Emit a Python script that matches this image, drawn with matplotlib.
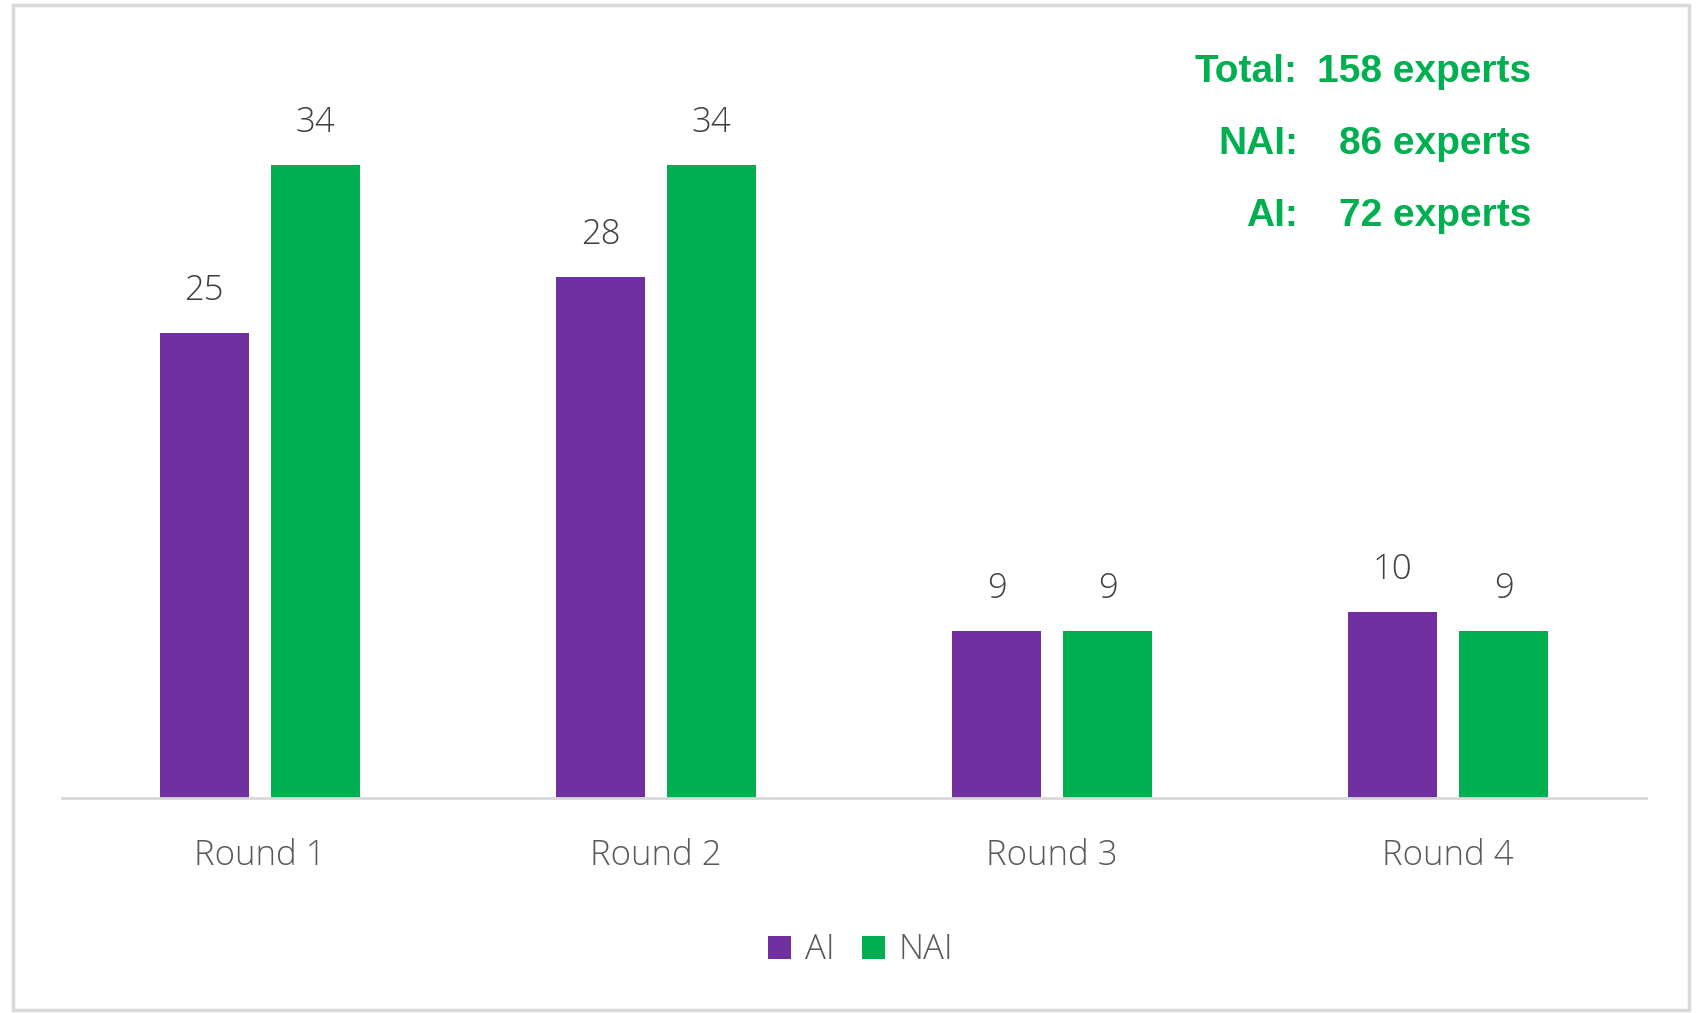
import matplotlib
matplotlib.use("Agg")
import matplotlib.pyplot as plt
from matplotlib.patches import Rectangle
import numpy as np

categories = ["Round 1", "Round 2", "Round 3", "Round 4"]
ai_values = [25, 28, 9, 10]
nai_values = [34, 34, 9, 9]
series_names = ["AI", "NAI"]
summary_labels = ["Total:", "NAI:", "AI:"]
summary_values = ["158 experts", "86 experts", "72 experts"]

PURPLE = "#7030A0"
GREEN = "#00B050"
GRAY_TXT = "#595959"
LABEL_TXT = "#404040"
LINE = "#D9D9D9"

plt.rcParams['font.family'] = ['Open Sans', 'DejaVu Sans']

fig = plt.figure(figsize=(16.98, 10.13), dpi=100)
ax = fig.add_axes([0.0363, 0.212, 0.9333, 0.735])

x = np.arange(len(categories))
w = 0.225
off = 0.14
b1 = ax.bar(x - off, ai_values, w, color=PURPLE, label=series_names[0])
b2 = ax.bar(x + off, nai_values, w, color=GREEN, label=series_names[1])

for bars, vals in ((b1, ai_values), (b2, nai_values)):
    for r, v in zip(bars, vals):
        ax.annotate(str(v), (r.get_x() + r.get_width() / 2, v),
                    xytext=(0, 25), textcoords="offset pixels",
                    ha="center", va="bottom", fontsize=25, color=LABEL_TXT,
                    fontweight="light")

ax.set_xlim(-0.5, 3.5)
ax.set_ylim(0, 40)
ax.set_xticks(x)
ax.set_xticklabels(categories, fontsize=25, color=GRAY_TXT, fontweight="light")
ax.tick_params(axis="x", length=0, pad=29)
ax.set_yticks([])
for s in ("left", "right", "top"):
    ax.spines[s].set_visible(False)
ax.spines["bottom"].set_color(LINE)
ax.spines["bottom"].set_linewidth(2)

leg = fig.legend(handles=[b1, b2], labels=series_names, loc="center",
                 bbox_to_anchor=(0.507, 0.062), ncol=2, frameon=False,
                 prop={"size": 25, "weight": "light"},
                 handlelength=0.65, handleheight=0.65,
                 handletextpad=0.4, columnspacing=0.8)
for t in leg.get_texts():
    t.set_color(GRAY_TXT)

ys = [1 - 72 / 1013, 1 - 144 / 1013, 1 - 216 / 1013]
for lab, val, y in zip(summary_labels, summary_values, ys):
    fig.text(1298 / 1698, y, lab, ha="right", va="center", fontsize=28,
             fontweight="bold", color=GREEN, family="Liberation Sans")
    fig.text(1531 / 1698, y, val, ha="right", va="center", fontsize=28,
             fontweight="bold", color=GREEN, family="Liberation Sans")

fig.patches.append(Rectangle((0.0077, 0.003), 0.987, 0.9917, transform=fig.transFigure,
                             fill=False, edgecolor=LINE, linewidth=2.5))

fig.savefig("out.png", dpi=100, facecolor="white")
